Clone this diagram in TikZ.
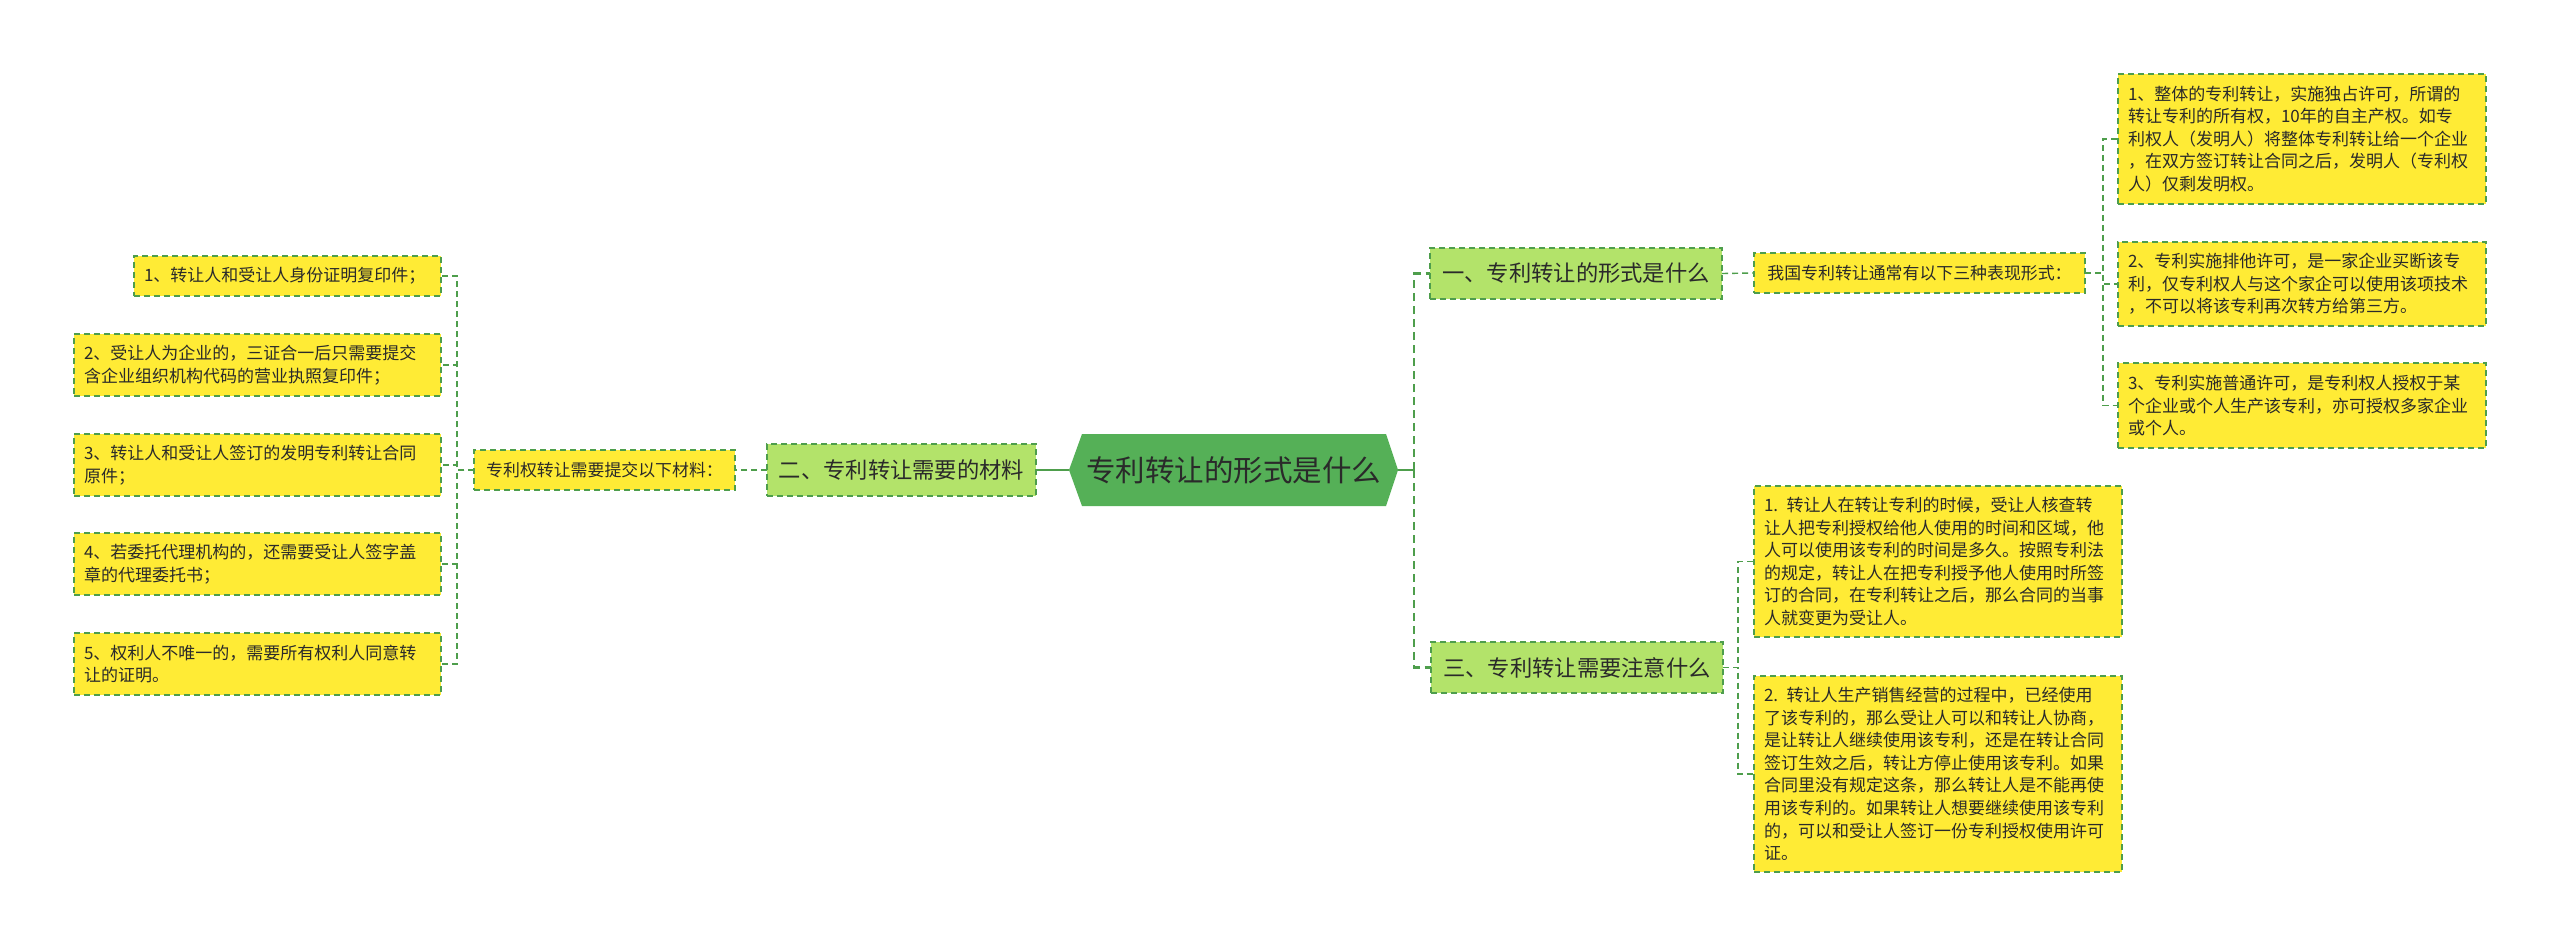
\documentclass[tikz,border=0pt]{standalone}
\usepackage{fontspec}
\setmainfont{Noto Sans CJK SC}
\begin{document}
\begin{tikzpicture}[x=1pt,y=-1pt,
  every node/.style={inner sep=0pt, outer sep=0pt, text=textc},
  leaf/.style={draw=bordc, fill=leafc, dash pattern=on 6pt off 4pt, line width=1.3pt,
     align=left, font=\fontsize{17}{22.6}\selectfont, anchor=center},
  lvl/.style={draw=bordc, fill=lvlc, dash pattern=on 6pt off 4pt, line width=1.3pt,
     align=center, font=\fontsize{22.3}{26}\selectfont},
  conn/.style={draw=linec, line width=1.4pt, dash pattern=on 6pt off 4pt},
  mainconn/.style={draw=linec, line width=2.4pt, dash pattern=on 8pt off 5pt},
  solidconn/.style={draw=linec, line width=2.4pt}
]
\definecolor{textc}{HTML}{2A2A2A}
\definecolor{leafc}{HTML}{FFEB35}
\definecolor{lvlc}{HTML}{B3E36A}
\definecolor{bordc}{HTML}{4E9E4C}
\definecolor{linec}{HTML}{4E9E4C}
\definecolor{hexc}{HTML}{55B057}
\useasboundingbox (0,0) rectangle (2560,947);
\fill[white] (0,0) rectangle (2560,947);

% center hexagon
\fill[hexc] (1069,470) -- (1082,434) -- (1386,434) -- (1398,470) -- (1386,506) -- (1082,506) -- cycle;
\node[font=\fontsize{29.5}{32}\selectfont, minimum width=329pt, minimum height=72pt] (c) at (1233.5,470) {专利转让的形式是什么};

% left side
\node[lvl, minimum width=269pt, minimum height=52pt] (b2) at (901.5,470) {二、专利转让需要的材料};
\node[leaf, align=center, font=\fontsize{16.9}{20}\selectfont, minimum width=261pt, minimum height=40pt] (m2) at (604.5,470) {专利权转让需要提交以下材料：};

\node[leaf, minimum width=307pt, minimum height=40pt, text width=287pt] (l1) at (287.5,276) {1、转让人和受让人身份证明复印件；};
\node[leaf, minimum width=367pt, minimum height=62pt, text width=347pt] (l2) at (257.5,365) {2、受让人为企业的，三证合一后只需要提交\\含企业组织机构代码的营业执照复印件；};
\node[leaf, minimum width=367pt, minimum height=62pt, text width=347pt] (l3) at (257.5,465) {3、转让人和受让人签订的发明专利转让合同\\原件；};
\node[leaf, minimum width=367pt, minimum height=62pt, text width=347pt] (l4) at (257.5,564) {4、若委托代理机构的，还需要受让人签字盖\\章的代理委托书；};
\node[leaf, minimum width=367pt, minimum height=62pt, text width=347pt] (l5) at (257.5,664) {5、权利人不唯一的，需要所有权利人同意转\\让的证明。};

% right side level 1
\node[lvl, minimum width=292pt, minimum height=51pt] (b1) at (1576,273.5) {一、专利转让的形式是什么};
\node[lvl, minimum width=292pt, minimum height=51pt] (b3) at (1577,667.5) {三、专利转让需要注意什么};

\node[leaf, align=center, font=\fontsize{16.9}{20}\selectfont, minimum width=331pt, minimum height=40pt] (m1) at (1919.5,273) {我国专利转让通常有以下三种表现形式：};

\node[leaf, minimum width=368pt, minimum height=130pt, text width=348pt] (r1) at (2302,139) {1、整体的专利转让，实施独占许可，所谓的\\转让专利的所有权，10年的自主产权。如专\\利权人（发明人）将整体专利转让给一个企业\\，在双方签订转让合同之后，发明人（专利权\\人）仅剩发明权。};
\node[leaf, minimum width=368pt, minimum height=84pt, text width=348pt] (r2) at (2302,284) {2、专利实施排他许可，是一家企业买断该专\\利，仅专利权人与这个家企可以使用该项技术\\，不可以将该专利再次转方给第三方。};
\node[leaf, minimum width=368pt, minimum height=85pt, text width=348pt] (r3) at (2302,405.5) {3、专利实施普通许可，是专利权人授权于某\\个企业或个人生产该专利，亦可授权多家企业\\或个人。};

\node[leaf, minimum width=368pt, minimum height=151pt, text width=348pt] (s1) at (1938,561.5) {1. 转让人在转让专利的时候，受让人核查转\\让人把专利授权给他人使用的时间和区域，他\\人可以使用该专利的时间是多久。按照专利法\\的规定，转让人在把专利授予他人使用时所签\\订的合同，在专利转让之后，那么合同的当事\\人就变更为受让人。};
\node[leaf, minimum width=368pt, minimum height=196pt, text width=348pt] (s2) at (1938,774) {2. 转让人生产销售经营的过程中，已经使用\\了该专利的，那么受让人可以和转让人协商，\\是让转让人继续使用该专利，还是在转让合同\\签订生效之后，转让方停止使用该专利。如果\\合同里没有规定这条，那么转让人是不能再使\\用该专利的。如果转让人想要继续使用该专利\\的，可以和受让人签订一份专利授权使用许可\\证。};

% junction coordinates
\coordinate (jm) at (1414,470);
\coordinate (jl) at (457,470);
\coordinate (jr) at (2103,273);
\coordinate (js) at (1738,667.5);

% connectors
\draw[solidconn] (c.west) -- (b2.east);
\draw[solidconn] (1398,470) -- (jm);
\draw[mainconn] (jm) |- (b1.west);
\draw[mainconn] (jm) |- (b3.west);
\draw[conn] (b2.west) -- (m2.east);
\foreach \n in {l1,l2,l3,l4,l5} { \draw[conn] (m2.west) -- (jl) |- (\n.east); }
\draw[conn] (b1.east) -- (m1.west);
\foreach \n in {r1,r2,r3} { \draw[conn] (m1.east) -- (jr) |- (\n.west); }
\foreach \n in {s1,s2} { \draw[conn] (b3.east) -- (js) |- (\n.west); }
\end{tikzpicture}
\end{document}
